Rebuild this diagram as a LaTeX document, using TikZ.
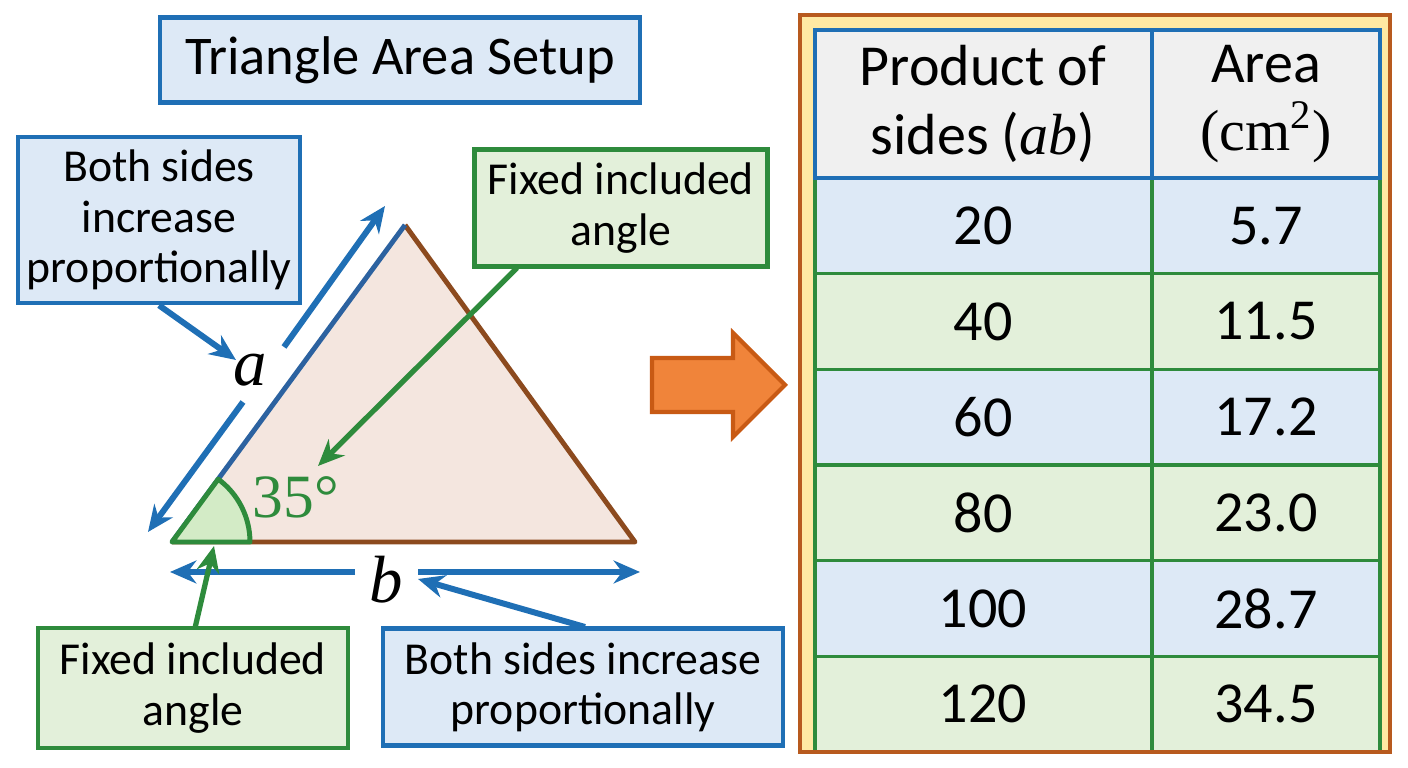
\documentclass[tikz,border=0pt]{standalone}
\usepackage{fontspec}
\setmainfont{Carlito}
\newfontfamily\srf{Liberation Serif}
\usetikzlibrary{arrows.meta,calc}
\definecolor{bblue}{HTML}{1F6FB5}
\definecolor{lblue}{HTML}{DDE9F6}
\definecolor{ggreen}{HTML}{2E8B3C}
\definecolor{lgreen}{HTML}{E3F0DA}
\definecolor{wgreen}{HTML}{D3EBC6}
\definecolor{tfill}{HTML}{F4E6DF}
\definecolor{tbrown}{HTML}{8C4A1E}
\definecolor{tside}{HTML}{2C62A0}
\definecolor{ofill}{HTML}{F0843A}
\definecolor{oedge}{HTML}{C85A14}
\definecolor{fbrown}{HTML}{B85A1E}
\definecolor{fyellow}{HTML}{FFE9A3}
\definecolor{hgray}{HTML}{F0F0F0}
\begin{document}
\begin{tikzpicture}[x=0.01cm,y=-0.01cm,
  bluebox/.style={draw=bblue,fill=lblue,line width=1.3pt,align=center,inner sep=0pt,
    font=\fontsize{13}{14.3}\selectfont},
  greenbox/.style={draw=ggreen,fill=lgreen,line width=1.3pt,align=center,inner sep=0pt,
    font=\fontsize{13}{14.3}\selectfont},
  bluearrow/.style={draw=bblue,line width=1.7pt,-{Stealth[length=7.5pt,width=6.5pt]}},
  greenarrow/.style={draw=ggreen,line width=1.5pt,-{Stealth[length=7.5pt,width=6.5pt]}},
  celltext/.style={font=\fontsize{16.5}{19.5}\selectfont,align=center,inner sep=0pt},
]
\useasboundingbox (0,0) rectangle (1408,768);

% title
\node[bluebox,minimum width=4.8cm,minimum height=0.85cm,font=\fontsize{15.5}{18}\selectfont] (title) at (400,60) {Triangle Area Setup};

% triangle
\coordinate (A) at (172,542);
\coordinate (B) at (405,225);
\coordinate (C) at (635,542);
\fill[tfill] (A) -- (B) -- (C) -- cycle;
\draw[tbrown,line width=1.4pt,line join=round] (B) -- (C) -- (A);
\draw[tside,line width=1.4pt] (A) -- (B);
\draw[ggreen,fill=wgreen,line width=1.4pt,line join=round] (A) -- ++(78,0) arc (0:-53.68:78) -- cycle;
\node[text=ggreen,font=\srf\fontsize{17.5}{20}\selectfont,inner sep=0pt] (ang) at (296,497) {35°};

% side a double arrow
\coordinate (a1) at (148,532);
\coordinate (a2) at (243,402);
\coordinate (a3) at (284,347);
\coordinate (a4) at (385,206);
\draw[bluearrow] (a2) -- (a1);
\draw[bluearrow] (a3) -- (a4);
\node[font=\srf\itshape\fontsize{19}{20}\selectfont,inner sep=0pt] (alab) at (250,370) {a};

% side b double arrow
\coordinate (b1) at (170,572);
\coordinate (b2) at (355,572);
\coordinate (b3) at (418,572);
\coordinate (b4) at (640,572);
\draw[bluearrow] (b2) -- (b1);
\draw[bluearrow] (b3) -- (b4);
\node[font=\srf\itshape\fontsize{19}{20}\selectfont,inner sep=0pt] (blab) at (386,580) {b};

% callout boxes
\node[bluebox,minimum width=2.82cm,minimum height=1.66cm] (tl) at (159,220) {Both sides\\increase\\proportionally};
\node[greenbox,minimum width=2.93cm,minimum height=1.17cm] (tr) at (621,208) {Fixed included\\angle};
\node[greenbox,minimum width=3.10cm,minimum height=1.20cm] (bl) at (193,688) {Fixed included\\angle};
\node[bluebox,minimum width=4.00cm,minimum height=1.17cm] (br) at (583,687) {Both sides increase\\proportionally};

% connectors
\coordinate (tlend) at (236,360);
\draw[bluearrow] (tl.south) -- (tlend);
\coordinate (trstart) at (517,268);
\coordinate (trend) at (318,466);
\draw[greenarrow] (trstart) -- (trend);
\coordinate (blstart) at (195,628);
\coordinate (blend) at (214,546);
\draw[greenarrow] (blstart) -- (blend);
\coordinate (brstart) at (585,627);
\coordinate (brend) at (418,579);
\draw[bluearrow] (brstart) -- (brend);

% orange arrow
\draw[oedge,fill=ofill,line width=1.2pt,line join=miter] (652,358) -- (733,358) -- (733,333) -- (785,385) -- (733,437) -- (733,412) -- (652,412) -- cycle;

% table
\fill[fyellow] (800,15) rectangle (1390,752);
\def\rh{95.67}
\foreach \i/\col in {0/lblue,1/lgreen,2/lblue,3/lgreen,4/lblue,5/lgreen}{
  \draw[ggreen,line width=1pt,fill=\col] (815,{178+\i*\rh}) rectangle (1380,{178+(\i+1)*\rh});
}
\draw[ggreen,line width=1pt] (1152,178) -- (1152,752);
\draw[bblue,line width=1.15pt,fill=hgray] (815,30) rectangle (1380,178);
\draw[bblue,line width=1.15pt] (1152,30) -- (1152,178);
\draw[fbrown,line width=1.3pt] (800,15) rectangle (1390,752);

\node[celltext] (h1) at (983,104) {Product of\\sides ({\srf\itshape ab})};
\node[celltext] (h2) at (1266,104) {Area\\{\srf(cm\textsuperscript{2})}};
\foreach \i/\p/\q in {0/20/5.7,1/40/11.5,2/60/17.2,3/80/23.0,4/100/28.7,5/120/34.5}{
  \node[celltext] (p\i) at (983,{178+(\i+0.5)*\rh}) {\p};
  \node[celltext] (q\i) at (1266,{178+(\i+0.5)*\rh}) {\q};
}
\end{tikzpicture}
\end{document}
